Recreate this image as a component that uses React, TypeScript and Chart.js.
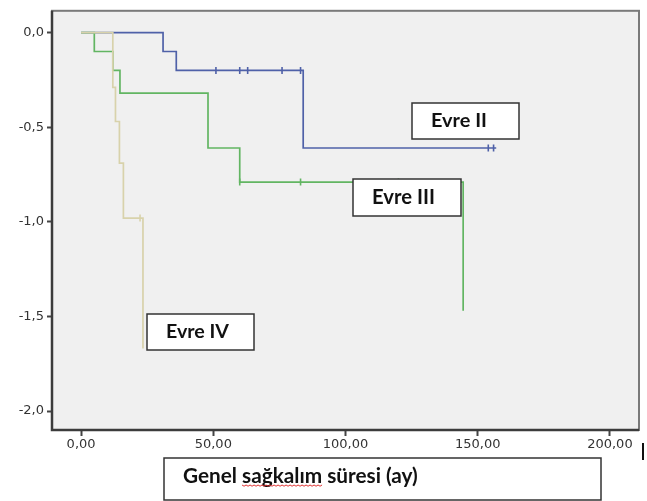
import React, { useEffect, useRef } from "react";
import { Chart, registerables } from "chart.js";

Chart.register(...registerables);

// ---- data ----
const stageLabels = ["Evre II", "Evre III", "Evre IV"];

const evre2Times = [0, 31, 36, 84, 157];
const evre2Values = [0, -0.1, -0.2, -0.61, -0.61];
const evre2CensorTimes = [51, 60, 63, 76, 83, 154, 156];
const evre2CensorValues = [-0.2, -0.2, -0.2, -0.2, -0.2, -0.61, -0.61];

const evre3Times = [0, 5, 12, 14.7, 48, 60, 144.5];
const evre3Values = [0, -0.1, -0.2, -0.32, -0.61, -0.79, -1.47];
const evre3CensorTimes = [60, 83, 120];
const evre3CensorValues = [-0.79, -0.79, -0.79];

const evre4Times = [0, 12, 13, 14.5, 16, 23.4];
const evre4Values = [0, -0.29, -0.47, -0.69, -0.98, -1.67];
const evre4CensorTimes = [22.3];
const evre4CensorValues = [-0.98];

const xTicks = [0, 50, 100, 150, 200];
const xTickLabels = ["0,00", "50,00", "100,00", "150,00", "200,00"];
const yTicks = [-2, -1.5, -1, -0.5, 0];
const yTickLabels = ["-2,0", "-1,5", "-1,0", "-0,5", "0,0"];
const xAxisTitle = "Genel sağkalım süresi (ay)";

// ---- style / layout ----
const BLUE = "#4f61a8";
const GREEN = "#62b562";
const TAN = "#d8d2ab";
const TICK_FONT = { family: "'DejaVu Sans'", size: 13 };

// label boxes: [left, top, right, bottom, textLeft, textWidth]
const stageBoxes = [
  [412, 103, 519, 139, 431, 56],
  [353, 179, 461, 216, 372, 63],
  [147, 314, 254, 350, 166, 63],
];
const titleBox = [164, 458, 601, 500, 183, 235];

const toPts = (xs: number[], ys: number[]) => xs.map((x, i) => ({ x, y: ys[i] }));

function fitFont(ctx: CanvasRenderingContext2D, text: string, width: number, family: string) {
  let size = 14;
  ctx.font = `bold ${size}px ${family}`;
  const w = ctx.measureText(text).width;
  size = (size * width) / w;
  ctx.font = `bold ${size}px ${family}`;
  return size;
}

const decorPlugin = {
  id: "decor",
  beforeDraw(chart: any) {
    const { ctx, chartArea: a } = chart;
    ctx.save();
    ctx.fillStyle = "#f0f0f0";
    ctx.fillRect(a.left, a.top, a.right - a.left, a.bottom - a.top);
    ctx.restore();
  },
  afterDraw(chart: any) {
    const { ctx, chartArea: a } = chart;
    ctx.save();
    // frame
    ctx.strokeStyle = "#7a7a7a";
    ctx.lineWidth = 2;
    ctx.strokeRect(a.left, a.top, a.right - a.left, a.bottom - a.top);
    ctx.strokeStyle = "#3c3c3c";
    ctx.lineWidth = 2.5;
    ctx.beginPath();
    ctx.moveTo(a.left, a.top);
    ctx.lineTo(a.left, a.bottom);
    ctx.lineTo(a.right, a.bottom);
    ctx.stroke();

    const fam = "Lato, 'Open Sans', sans-serif";
    const drawBox = (b: number[], text: string) => {
      const [l, t, r, btm, , tw] = b;
      ctx.fillStyle = "#ffffff";
      ctx.fillRect(l, t, r - l, btm - t);
      ctx.strokeStyle = "#333333";
      ctx.lineWidth = 1.5;
      ctx.strokeRect(l, t, r - l, btm - t);
      fitFont(ctx, text, tw, fam);
      ctx.fillStyle = "#111111";
      ctx.textBaseline = "middle";
      ctx.textAlign = "left";
    };
    stageLabels.forEach((lab, i) => {
      const b = stageBoxes[i];
      drawBox(b, lab);
      ctx.fillText(lab, b[4], (b[1] + b[3]) / 2);
    });

    // x axis title box
    drawBox(titleBox, xAxisTitle);
    const ty = 476;
    ctx.fillText(xAxisTitle, titleBox[4], ty);
    // red wavy underline under "sağkalım"
    const start = titleBox[4] + ctx.measureText("Genel ").width;
    const end = start + ctx.measureText("sağkalım").width;
    ctx.strokeStyle = "#e03030";
    ctx.lineWidth = 1;
    ctx.beginPath();
    for (let x = start, k = 0; x <= end; x += 2, k++) {
      const y = ty + 9 + (k % 2 === 0 ? 0 : 1.2);
      if (k === 0) ctx.moveTo(x, y);
      else ctx.lineTo(x, y);
    }
    ctx.stroke();

    // stray cursor bar at right
    ctx.fillStyle = "#111111";
    ctx.fillRect(642, 443, 2, 17);
    ctx.restore();
  },
};

export default function App() {
  const ref = useRef<HTMLCanvasElement | null>(null);
  useEffect(() => {
    if (!ref.current) return;
    const lineDs = (label: string, xs: number[], ys: number[], color: string) => ({
      label,
      data: toPts(xs, ys),
      showLine: true,
      stepped: true,
      borderColor: color,
      backgroundColor: color,
      borderWidth: 1.7,
      pointRadius: 0,
      fill: false,
    });
    const censorDs = (label: string, xs: number[], ys: number[], color: string) => ({
      label,
      data: toPts(xs, ys),
      showLine: false,
      pointStyle: "line",
      rotation: 90,
      pointRadius: 3.5,
      borderColor: color,
      backgroundColor: color,
      pointBorderWidth: 1.6,
    });
    const chart = new Chart(ref.current, {
      type: "scatter",
      data: {
        datasets: [
          censorDs("Evre IV censor", evre4CensorTimes, evre4CensorValues, TAN),
          lineDs(stageLabels[2], evre4Times, evre4Values, TAN),
          censorDs("Evre III censor", evre3CensorTimes, evre3CensorValues, GREEN),
          lineDs(stageLabels[1], evre3Times, evre3Values, GREEN),
          censorDs("Evre II censor", evre2CensorTimes, evre2CensorValues, BLUE),
          lineDs(stageLabels[0], evre2Times, evre2Values, BLUE),
        ] as any,
      },
      options: {
        animation: false,
        responsive: false,
        devicePixelRatio: 1,
        layout: { padding: { top: 5, right: 8, bottom: 0, left: 0 } },
        plugins: { legend: { display: false }, tooltip: { enabled: false } },
        scales: {
          x: {
            type: "linear",
            min: -11,
            max: 211,
            afterBuildTicks: (s: any) => {
              s.ticks = xTicks.map((v) => ({ value: v }));
            },
            afterFit: (s: any) => {
              s.height = 71;
            },
            ticks: {
              autoSkip: false,
              maxRotation: 0,
              padding: 1,
              color: "#333",
              font: TICK_FONT,
              callback: (v: any) => xTickLabels[xTicks.indexOf(Number(v))] ?? "",
            },
            grid: {
              drawOnChartArea: false,
              drawTicks: true,
              tickLength: 6,
              tickColor: "#444",
              tickWidth: 2,
            },
            border: { display: false },
          },
          y: {
            type: "linear",
            min: -2.1,
            max: 0.115,
            afterBuildTicks: (s: any) => {
              s.ticks = yTicks.map((v) => ({ value: v }));
            },
            afterFit: (s: any) => {
              s.width = 52;
            },
            ticks: {
              autoSkip: false,
              padding: 3,
              color: "#333",
              font: TICK_FONT,
              callback: (v: any) => {
                const i = yTicks.findIndex((t) => Math.abs(t - Number(v)) < 1e-6);
                return i >= 0 ? yTickLabels[i] : "";
              },
            },
            grid: {
              drawOnChartArea: false,
              drawTicks: true,
              tickLength: 5,
              tickColor: "#444",
              tickWidth: 2,
            },
            border: { display: false },
          },
        },
      },
      plugins: [decorPlugin],
    } as any);
    return () => chart.destroy();
  }, []);
  return (
    <div style={{ position: "absolute", left: 0, top: 0, width: 647, height: 501, background: "#fff" }}>
      <canvas ref={ref} width={647} height={501} style={{ width: 647, height: 501, display: "block" }} />
    </div>
  );
}
